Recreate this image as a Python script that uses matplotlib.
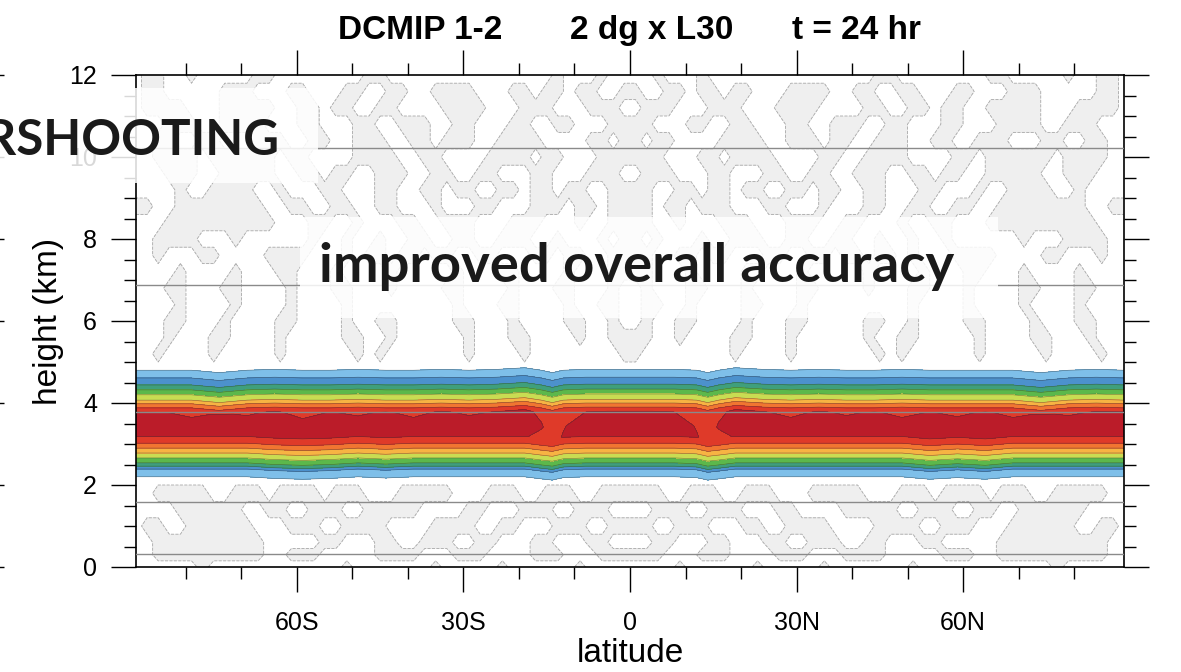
import numpy as np
import matplotlib.pyplot as plt
from matplotlib.patches import Rectangle

plt.rcParams['font.family'] = ['Liberation Sans', 'DejaVu Sans']

# ---- tracer band: vertical profile (km / mixing ratio)
prof_z = [2.00, 2.20, 2.39, 2.46, 2.54, 2.66, 2.78, 2.90, 3.02, 3.20, 3.45,
          3.76, 3.88, 3.98, 4.07, 4.20, 4.32, 4.44, 4.61, 4.80, 5.00]
prof_q = [0.0, 0.1, 0.2, 0.3, 0.4, 0.5, 0.6, 0.7, 0.8, 0.9, 0.97,
          0.9, 0.8, 0.7, 0.6, 0.5, 0.4, 0.3, 0.2, 0.1, 0.0]
band_levels = [0.1, 0.2, 0.3, 0.4, 0.5, 0.6, 0.7, 0.8, 0.9, 1.2]
band_colors = ['#7ebfe9', '#4c91cd', '#3f9f7c', '#5cb84b', '#c9dc52',
               '#f7b343', '#f17531', '#df3a29', '#bb1c29']

# latitude wiggles of the band
band_lat = [-89, -84, -79, -74, -69, -64, -59, -54, -49, -44, -39, -34, -29, -24,
            -19, -16, -14, -12, -8, -4, 0, 4, 8, 12, 14, 16, 19,
            24, 29, 34, 39, 44, 49, 54, 59, 64, 69, 74, 79, 84, 89]
top_shift = [0, 0, 0, -0.06, 0, 0.02, 0, 0, 0.02, 0, 0, 0.02, 0, 0.02,
             0.06, 0.0, -0.06, 0.0, 0.02, 0.02, 0.02, 0.02, 0.02, 0.0, -0.06, 0.0, 0.06,
             0.02, 0, 0.02, 0, 0, 0.02, 0, 0, 0, 0, -0.06, 0, 0.02, 0]
bot_shift = [0, 0, 0, 0, 0, -0.04, -0.06, -0.04, 0, -0.03, 0, 0, 0, 0,
             0, -0.05, -0.08, -0.02, 0, 0, 0, 0, 0, -0.02, -0.08, -0.05, 0,
             0, 0, 0, 0, 0, 0, -0.06, -0.02, -0.06, 0, 0, 0, 0, 0]
core_top = [0.92, 0.91, 0.86, 0.92, 0.88, 0.92, 0.85, 0.91, 0.87, 0.92, 0.86, 0.92, 0.88, 0.91,
            0.92, 0.88, 0.86, 0.87, 0.90, 0.92, 0.92, 0.92, 0.90, 0.87, 0.86, 0.88, 0.92,
            0.91, 0.86, 0.92, 0.88, 0.92, 0.85, 0.91, 0.87, 0.92, 0.86, 0.92, 0.88, 0.91, 0.92]
core_mid = [0.97, 0.97, 0.97, 0.97, 0.97, 0.97, 0.97, 0.97, 0.97, 0.97, 0.97, 0.97, 0.97, 0.97,
            0.97, 0.91, 0.86, 0.89, 0.97, 0.97, 0.97, 0.97, 0.97, 0.89, 0.86, 0.91, 0.97,
            0.97, 0.97, 0.97, 0.97, 0.97, 0.97, 0.97, 0.97, 0.97, 0.97, 0.97, 0.97, 0.97, 0.97]
core_bot = [0.91, 0.91, 0.91, 0.91, 0.91, 0.91, 0.91, 0.91, 0.91, 0.91, 0.91, 0.91, 0.91, 0.91,
            0.91, 0.87, 0.86, 0.91, 0.91, 0.91, 0.91, 0.91, 0.91, 0.91, 0.86, 0.87, 0.91,
            0.91, 0.91, 0.91, 0.91, 0.91, 0.91, 0.91, 0.91, 0.91, 0.91, 0.91, 0.91, 0.91, 0.91]

# ---- small negative values (gray, dashed): latitude spans per level, northern half,
#      model columns at lat 1..89 by 2 deg, mirrored to the south
noise_z = [12.0, 11.6, 11.2, 10.8, 10.4, 10.0, 9.6, 9.2, 8.8, 8.4, 8.0, 7.6, 7.2,
           6.8, 6.4, 6.0, 5.6, 5.2, 4.8, 2.2, 1.8, 1.4, 1.0, 0.6, 0.3, 0.0]
gray_spans = [
    [(5, 5), (13, 13), (45, 47), (65, 67), (79, 79), (85, 87)],
    [(1, 1), (7, 9), (13, 15), (19, 21), (29, 35), (41, 43), (49, 51), (59, 61), (69, 73), (85, 87)],
    [(3, 7), (15, 19), (27, 33), (43, 45), (51, 53), (57, 59), (65, 73), (81, 87)],
    [(1, 3), (11, 13), (19, 21), (29, 31), (37, 41), (47, 49), (57, 59), (67, 73), (79, 83)],
    [(1, 1), (5, 7), (17, 23), (29, 33), (37, 39), (45, 49), (55, 57), (63, 67), (75, 77), (83, 85)],
    [(1, 5), (13, 15), (19, 25), (35, 37), (43, 49), (59, 61), (65, 75), (79, 85)],
    [(3, 7), (15, 17), (25, 27), (33, 35), (41, 45), (51, 53), (57, 59), (65, 73), (79, 83)],
    [(1, 3), (9, 11), (15, 17), (21, 23), (29, 31), (35, 37), (43, 45), (53, 55), (63, 63),
     (69, 75), (81, 81)],
    [(1, 3), (7, 9), (13, 17), (25, 27), (35, 35), (43, 45), (51, 53), (59, 61), (67, 81), (87, 89)],
    [(1, 3), (9, 9), (17, 21), (29, 33), (39, 41), (49, 49), (55, 57), (65, 83)],
    [(1, 1), (5, 5), (13, 13), (19, 23), (29, 31), (37, 39), (45, 45), (51, 51), (57, 57),
     (71, 71), (79, 85)],
    [(1, 3), (9, 11), (15, 17), (25, 27), (33, 35), (39, 41), (45, 47), (51, 51), (59, 65),
     (75, 77), (85, 85)],
    [(1, 3), (11, 11), (21, 23), (31, 31), (43, 43), (53, 53), (61, 63), (71, 71), (81, 81)],
    [(3, 3), (11, 13), (21, 21), (31, 33), (43, 43), (51, 53), (61, 61), (71, 73), (81, 83)],
    [(3, 5), (11, 11), (21, 23), (31, 31), (51, 51), (61, 61), (71, 71), (81, 81)],
    [(3, 3), (9, 11), (21, 21), (29, 31), (43, 45), (51, 51), (61, 63), (73, 73), (81, 83)],
    [(1, 3), (9, 9), (19, 21), (29, 29), (43, 43), (49, 51), (63, 63), (73, 75), (83, 83)],
    [(1, 1), (19, 19), (29, 29), (45, 45), (49, 49), (63, 63), (75, 75), (85, 85)],
    [],
    [],
    [(1, 5), (11, 15), (21, 25), (33, 41), (49, 53), (57, 63), (67, 71), (77, 85)],
    [(5, 9), (15, 19), (27, 29), (39, 47), (53, 57), (63, 65), (71, 81)],
    [(1, 3), (9, 13), (21, 23), (29, 35), (45, 51), (57, 61), (69, 79), (85, 87)],
    [(5, 7), (15, 17), (25, 27), (33, 37), (43, 45), (53, 55), (67, 85)],
    [(1, 5), (13, 17), (27, 31), (39, 45), (57, 61), (67, 85)],
    [(9, 9), (23, 23), (35, 35), (51, 51), (77, 77)],
]

# thin reference lines (km)
ref_lines = [10.22, 6.88, 3.78, 1.59, 0.32]

lat_ticks = [-60, -30, 0, 30, 60]
lat_labels = ['60S', '30S', '0', '30N', '60N']
z_ticks = [0, 2, 4, 6, 8, 10, 12]

# ---- build grids
nh_lat = np.arange(1, 90, 2)
noise_lat = np.concatenate([-nh_lat[::-1], nh_lat])
noise_nh = np.ones((len(noise_z), len(nh_lat)))
for k, spans in enumerate(gray_spans):
    for a, b in spans:
        noise_nh[k, (a - 1) // 2:(b - 1) // 2 + 1] = -1.0
noise = np.hstack([noise_nh[:, ::-1], noise_nh])

nb = len(band_lat)
Q = np.tile(np.array(prof_q, float)[:, None], (1, nb))
Q[9, :] = core_bot
Q[10, :] = core_mid
Q[11, :] = core_top
Z = np.tile(np.array(prof_z, float)[:, None], (1, nb))
Z[:10, :] += np.array(bot_shift)[None, :]
Z[11:, :] += np.array(top_shift)[None, :]
Z[10, :] += 0.5 * (np.array(bot_shift) + np.array(top_shift))
LAT = np.tile(np.array(band_lat, float)[None, :], (len(prof_z), 1))

fig = plt.figure(figsize=(11.81, 6.72), dpi=100)
ax = fig.add_axes([136 / 1181, 105 / 672, 988 / 1181, 492 / 672])

ax.contourf(noise_lat, noise_z, noise, levels=[-2, 0], colors=['#efefef'], zorder=1)
ax.contour(noise_lat, noise_z, noise, levels=[0], colors='#a8a8a8',
           linewidths=0.6, linestyles='--', zorder=1)
ax.contourf(LAT, Z, Q, levels=band_levels, colors=band_colors, zorder=2)
ax.contour(LAT, Z, Q, levels=band_levels[:-1], colors='#303030',
           linewidths=0.4, alpha=0.6, zorder=2)
for h in ref_lines:
    ax.axhline(h, color='#8a8a8a', lw=1.0, zorder=3)

ax.set_xlim(-89, 89)
ax.set_ylim(0, 12)
ax.set_xticks(lat_ticks)
ax.set_xticklabels(lat_labels)
ax.set_xticks(np.arange(-80, 81, 10), minor=True)
ax.set_yticks(z_ticks)
ax.set_yticks(np.arange(0, 12.01, 0.5), minor=True)
ax.tick_params(which='both', direction='out', top=True, right=True, width=1.0,
               labelsize=18, colors='black')
ax.tick_params(which='major', length=18)
ax.tick_params(which='minor', length=8.5)
ax.tick_params(axis='y', pad=10)
ax.tick_params(axis='x', pad=14)
for s in ax.spines.values():
    s.set_linewidth(1.2)

ax.set_xlabel('latitude', fontsize=24)
ax.set_ylabel('height (km)', fontsize=24)
ax.xaxis.set_label_coords(0.5, -0.145)
ax.yaxis.set_label_coords(-0.073, 0.5)

# neighbouring panel's tick marks peeking in at the left edge
ax2 = fig.add_axes([-(21 + 988) / 1181, 105 / 672, 988 / 1181, 492 / 672])
ax2.set_ylim(0, 12)
ax2.set_yticks(z_ticks)
ax2.set_xticks([])
ax2.tick_params(axis='y', direction='out', left=False, right=True,
                labelleft=False, length=18, width=1.0)
for s in ax2.spines.values():
    s.set_visible(False)
ax2.patch.set_visible(False)

# title
fig.text(338 / 1181, 1 - 39 / 672, 'DCMIP 1-2', fontsize=24, fontweight='bold', va='baseline')
fig.text(570 / 1181, 1 - 39 / 672, '2 dg x L30', fontsize=24, fontweight='bold', va='baseline')
fig.text(792 / 1181, 1 - 39 / 672, 't = 24 hr', fontsize=24, fontweight='bold', va='baseline')

# slide overlays
fig.patches.append(Rectangle((0, 1 - 183 / 672), 318 / 1181, 95 / 672,
                             transform=fig.transFigure, facecolor='white',
                             edgecolor='none', alpha=0.85, zorder=1))
fig.patches.append(Rectangle((300 / 1181, 1 - 318 / 672), 698 / 1181, 101 / 672,
                             transform=fig.transFigure, facecolor='white',
                             edgecolor='none', alpha=0.85, zorder=1))
fig.text(279 / 1181, 1 - 155 / 672, 'OVERSHOOTING', fontsize=35.5, fontweight='bold',
         family=['Lato', 'DejaVu Sans'], color='#1a1a1a', ha='right', va='baseline', zorder=4)
fig.text(319 / 1181, 1 - 282 / 672, 'improved overall accuracy', fontsize=39.2,
         fontweight='bold', family=['Lato', 'DejaVu Sans'], color='#1a1a1a',
         ha='left', va='baseline', zorder=4)

fig.savefig('out.png', dpi=100)
